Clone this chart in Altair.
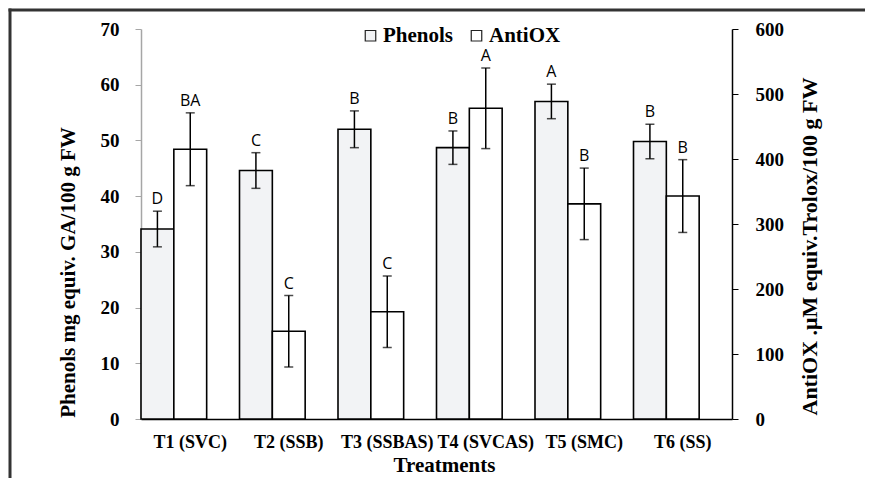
import altair as alt
import pandas as pd

treatments = ["T1 (SVC)", "T2 (SSB)", "T3 (SSBAS)", "T4 (SVCAS)", "T5 (SMC)", "T6 (SS)"]
phenols = [34.1, 44.6, 52.0, 48.7, 57.0, 49.8]
phenols_err = [3.2, 3.2, 3.3, 3.0, 3.1, 3.1]
phenols_letters = ["D", "C", "B", "B", "A", "B"]
antiox = [415, 135, 165, 478, 331, 343]
antiox_err = [56, 55, 55, 62, 55, 56]
antiox_letters = ["BA", "C", "C", "A", "B", "B"]

series_domain = ["Phenols", "AntiOX", "gap"]

def make_df(values, errs, letters, name):
    return pd.DataFrame({
        "treatment": treatments,
        "value": values,
        "lo": [v - e for v, e in zip(values, errs)],
        "hi": [v + e for v, e in zip(values, errs)],
        "letter": letters,
        "series": [name] * len(treatments),
    })

df_p = make_df(phenols, phenols_err, phenols_letters, "Phenols")
df_a = make_df(antiox, antiox_err, antiox_letters, "AntiOX")

SERIF = "Liberation Serif"
SANS = "Open Sans"

x_enc = alt.X("treatment:N", sort=treatments,
              scale=alt.Scale(paddingInner=0, paddingOuter=0),
              axis=alt.Axis(title="Treatments", labelAngle=0, ticks=False, tickSize=0,
                            labelPadding=14, labelFont=SERIF, labelFontSize=18,
                            labelFontWeight="bold", labelColor="black",
                            titleFont=SERIF, titleFontSize=21, titleFontWeight="bold",
                            titleColor="black", titlePadding=3, titleX=303,
                            domainColor="black", domainWidth=1.5))
xoff = alt.XOffset("series:N", scale=alt.Scale(domain=series_domain))
fill_enc = alt.Fill("series:N",
                    scale=alt.Scale(domain=["Phenols", "AntiOX"], range=["#f2f3f5", "#ffffff"]),
                    legend=alt.Legend(title=None, orient="none", legendX=219, legendY=-4,
                                      direction="horizontal", symbolType="square",
                                      symbolSize=110, symbolStrokeColor="#222",
                                      symbolStrokeWidth=1.2, labelFont=SERIF,
                                      labelFontSize=21, labelFontWeight="bold",
                                      labelColor="black", labelOffset=2, columnPadding=12))


def series_layer(df, domain_max, axis):
    y_scale = alt.Scale(domain=[0, domain_max], nice=False)
    base = alt.Chart(df)
    bars = base.mark_bar(stroke="black", strokeWidth=1.6).encode(
        x=x_enc, xOffset=xoff,
        y=alt.Y("value:Q", scale=y_scale, axis=axis),
        fill=fill_enc,
    )
    rule = base.mark_rule(color="black", strokeWidth=1.5).encode(
        x=alt.X("treatment:N", sort=treatments), xOffset=xoff,
        y="lo:Q", y2="hi:Q",
    )
    cap_hi = base.mark_tick(color="black", thickness=1.5, size=9).encode(
        x=alt.X("treatment:N", sort=treatments), xOffset=xoff, y="hi:Q",
    )
    cap_lo = base.mark_tick(color="black", thickness=1.5, size=9).encode(
        x=alt.X("treatment:N", sort=treatments), xOffset=xoff, y="lo:Q",
    )
    text = base.mark_text(font=SANS, fontSize=16, color="black", baseline="bottom",
                          dy=-4).encode(
        x=alt.X("treatment:N", sort=treatments), xOffset=xoff, y="hi:Q",
        text="letter:N",
    )
    return alt.layer(bars, rule, cap_hi, cap_lo, text)


axis_left = alt.Axis(title="Phenols mg equiv. GA/100 g FW", orient="left",
                     values=[0, 10, 20, 30, 40, 50, 60, 70], grid=False,
                     domainColor="#a6a6a6", domainWidth=1.5, tickColor="#a6a6a6",
                     tickSize=6, labelPadding=16, labelFont=SERIF, labelFontSize=19,
                     labelFontWeight="bold", labelColor="black",
                     titleFont=SERIF, titleFontSize=21, titleFontWeight="bold",
                     titleColor="black", titlePadding=22, titleY=243)
axis_right = alt.Axis(title="AntiOX .μM equiv.Trolox/100 g FW", orient="right",
                      values=[0, 100, 200, 300, 400, 500, 600], grid=False,
                      domainColor="black", domainWidth=1.5, tickColor="black",
                      tickSize=6, labelPadding=17, labelFont=SERIF, labelFontSize=19,
                      labelFontWeight="bold", labelColor="black",
                      titleFont=SERIF, titleFontSize=22, titleFontWeight="bold",
                      titleColor="black", titlePadding=16, titleY=217,
                      titleAngle=270, titleBaseline="top")

layer_p = series_layer(df_p, 70, axis_left)
layer_a = series_layer(df_a, 600, axis_right)

one = pd.DataFrame({"k": [0]})
frame_left = alt.Chart(one).mark_rect(fill="#333333", strokeWidth=0).encode(
    x=alt.value(-132.5), x2=alt.value(-129.5), y=alt.value(-20.5), y2=alt.value(460))
frame_top = alt.Chart(one).mark_rect(fill="#333333", strokeWidth=0).encode(
    x=alt.value(-132.5), x2=alt.value(724), y=alt.value(-20.5), y2=alt.value(-17.5))

chart = alt.layer(layer_p, layer_a, frame_left, frame_top).resolve_scale(
    y="independent"
).properties(
    width=591, height=390,
    padding={"left": 133, "top": 21, "right": 133, "bottom": 59},
    autosize=alt.AutoSizeParams(type="none"),
    background="white",
).configure_view(stroke=None)

chart.save("out.html", embed_options={"renderer": "svg", "actions": False})
